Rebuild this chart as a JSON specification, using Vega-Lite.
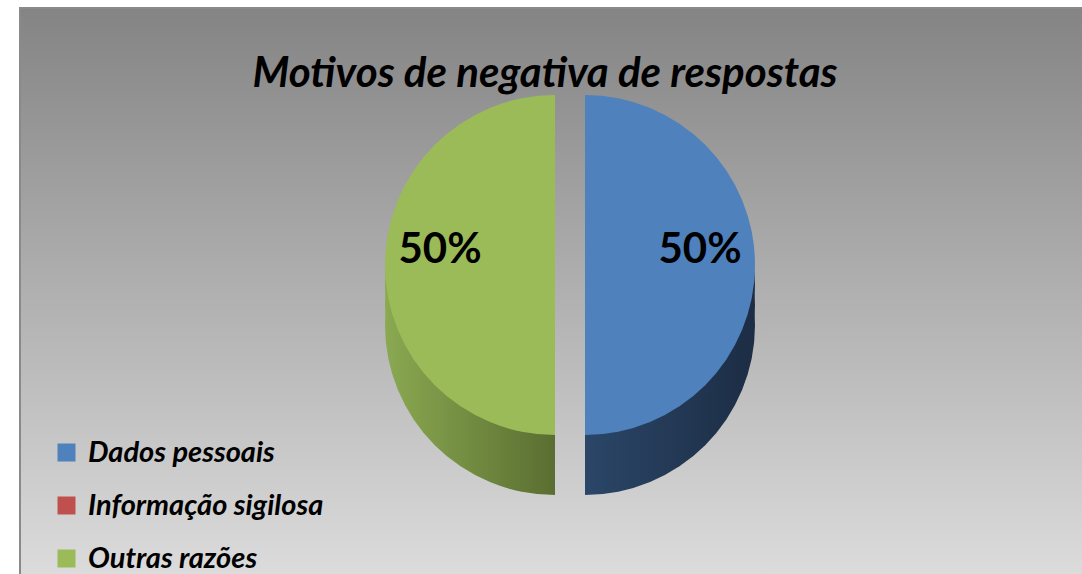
{
  "$schema": "https://vega.github.io/schema/vega-lite/v6.json",
  "width": 1064,
  "height": 570,
  "autosize": {"type": "none"},
  "padding": {"left": 20, "top": 8, "right": 0, "bottom": 0},
  "background": "white",
  "config": {
    "view": {
      "fill": {"gradient": "linear", "x1": 0, "y1": 0, "x2": 0, "y2": 1, "stops": [{"offset": 0, "color": "#848484"}, {"offset": 1, "color": "#dcdcdc"}]},
      "stroke": "#8a8a8a",
      "strokeWidth": 2
    }
  },
  "title": {
    "text": "Motivos de negativa de respostas",
    "font": "Lato",
    "fontSize": 42,
    "fontStyle": "italic",
    "fontWeight": "bold",
    "color": "black",
    "anchor": "middle",
    "offset": -88,
    "dx": -7
  },
  "data": {
    "values": [
      {"motivo": "Dados pessoais", "pct": 0.5},
      {"motivo": "Informação sigilosa", "pct": 0},
      {"motivo": "Outras razões", "pct": 0.5}
    ]
  },
  "encoding": {
    "theta": {"field": "pct", "type": "quantitative", "stack": true, "sort": "ascending"},
    "x": {"field": "motivo", "type": "nominal", "scale": {"type": "point", "range": [565, 535], "padding": 0}, "axis": null}
  },
  "layer": [
    {
      "mark": {"type": "arc", "y": 277, "outerRadius": 170},
      "encoding": {
        "color": {
          "condition": {"test": "datum.motivo === 'Dados pessoais'", "value": {"gradient": "linear", "x1": 0, "y1": 0, "x2": 1, "y2": 0, "stops": [{"offset": 0, "color": "#2b4668"}, {"offset": 1, "color": "#1c2d44"}]}},
          "value": {"gradient": "linear", "x1": 0, "y1": 0, "x2": 1, "y2": 0, "stops": [{"offset": 0, "color": "#8aa951"}, {"offset": 1, "color": "#5a6e31"}]}
        }
      }
    },
    {
      "mark": {"type": "arc", "y": 297, "outerRadius": 170},
      "encoding": {
        "color": {
          "condition": {"test": "datum.motivo === 'Dados pessoais'", "value": {"gradient": "linear", "x1": 0, "y1": 0, "x2": 1, "y2": 0, "stops": [{"offset": 0, "color": "#2b4668"}, {"offset": 1, "color": "#1c2d44"}]}},
          "value": {"gradient": "linear", "x1": 0, "y1": 0, "x2": 1, "y2": 0, "stops": [{"offset": 0, "color": "#8aa951"}, {"offset": 1, "color": "#5a6e31"}]}
        }
      }
    },
    {
      "mark": {"type": "arc", "y": 317, "outerRadius": 170},
      "encoding": {
        "color": {
          "condition": {"test": "datum.motivo === 'Dados pessoais'", "value": {"gradient": "linear", "x1": 0, "y1": 0, "x2": 1, "y2": 0, "stops": [{"offset": 0, "color": "#2b4668"}, {"offset": 1, "color": "#1c2d44"}]}},
          "value": {"gradient": "linear", "x1": 0, "y1": 0, "x2": 1, "y2": 0, "stops": [{"offset": 0, "color": "#8aa951"}, {"offset": 1, "color": "#5a6e31"}]}
        }
      }
    },
    {
      "mark": {"type": "arc", "y": 257, "outerRadius": 170},
      "encoding": {
        "color": {
          "field": "motivo",
          "type": "nominal",
          "scale": {"domain": ["Dados pessoais", "Informação sigilosa", "Outras razões"], "range": ["#4f81bd", "#c0504d", "#9bbb59"]},
          "legend": {
            "orient": "none",
            "legendX": 32,
            "legendY": 430,
            "title": null,
            "symbolType": "square",
            "symbolSize": 324,
            "symbolStrokeWidth": 0,
            "labelFont": "Lato",
            "labelFontSize": 29,
            "labelFontStyle": "italic",
            "labelFontWeight": "bold",
            "labelColor": "black",
            "labelOffset": 7,
            "rowPadding": 23,
            "labelLimit": 400
          }
        }
      }
    },
    {
      "transform": [{"filter": "datum.pct > 0"}],
      "mark": {"type": "text", "y": 242, "radius": 115, "font": "Lato", "fontSize": 42, "fontWeight": "bold", "color": "black"},
      "encoding": {
        "text": {"field": "pct", "type": "quantitative", "format": ".0%"}
      }
    }
  ]
}
